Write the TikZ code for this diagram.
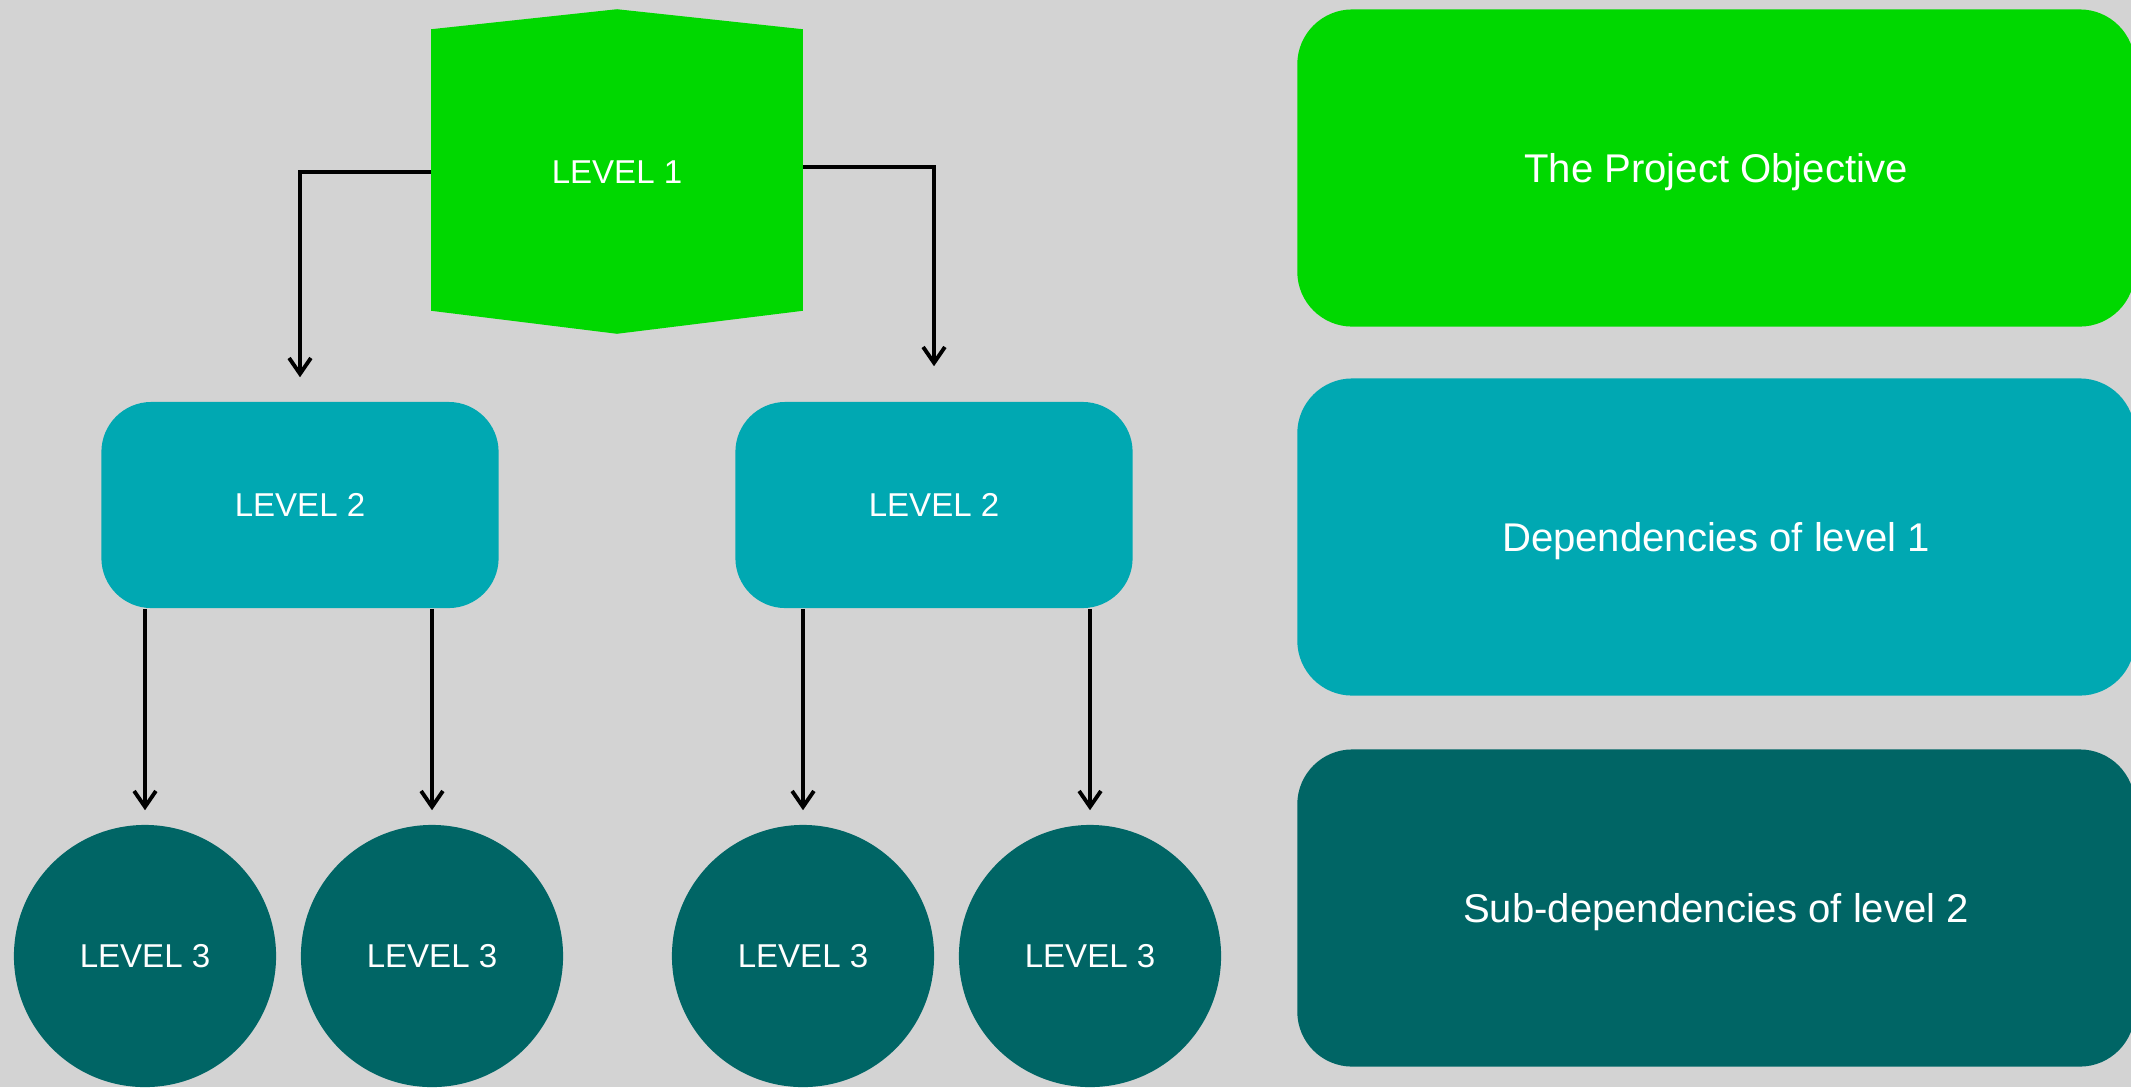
\documentclass[tikz,border=0pt]{standalone}
\usepackage{fontspec}
\setmainfont{Liberation Sans}
\usetikzlibrary{arrows.meta,calc}
\definecolor{bg}{RGB}{211,211,211}
\definecolor{lgreen}{RGB}{0,216,0}
\definecolor{tealA}{RGB}{0,168,178}
\definecolor{tealB}{RGB}{0,101,101}
\pgfdeclarelayer{back}
\pgfdeclarelayer{mid}
\pgfsetlayers{back,mid,main}
\begin{document}
\begin{tikzpicture}[x=0.01cm,y=-0.01cm,
  lbl/.style={text=white, font=\fontsize{9.4pt}{11pt}\selectfont, inner sep=0pt},
  boxtwo/.style={lbl, fill=tealA, rounded corners=0.5cm, minimum width=3.97cm, minimum height=2.06cm},
  circ/.style={lbl, circle, fill=tealB, minimum size=2.62cm},
  side/.style={text=white, font=\fontsize{11.4pt}{13pt}\selectfont, rounded corners=0.55cm, minimum width=8.37cm, minimum height=3.17cm, inner sep=0pt, text depth=0pt},
  arr/.style={draw=black, line width=1.1pt, -{Straight Barb[length=4.5pt,width=6.2pt,line width=1.1pt]}}]
\begin{pgfonlayer}{back}
\fill[bg] (0,0) rectangle (2131,1087);
\end{pgfonlayer}
\useasboundingbox (0,0) rectangle (2131,1087);
% level 1
\node[lbl, minimum width=3.70cm, minimum height=2.80cm] (l1) at (617,172) {LEVEL 1};
\begin{pgfonlayer}{mid}
\fill[lgreen] ($(l1.north west)+(0,-2)$) -- ($(l1.north)+(0,-22)$) -- ($(l1.north east)+(0,-2)$) -- ($(l1.south east)+(0,-2)$) -- ($(l1.south)+(0,21)$) -- ($(l1.south west)+(0,-2)$) -- cycle;
\end{pgfonlayer}
% level 2
\node[boxtwo] (l2a) at (300,505) {LEVEL 2};
\node[boxtwo] (l2b) at (934,505) {LEVEL 2};
% level 3
\node[circ] (l3a) at (145,956) {LEVEL 3};
\node[circ] (l3b) at (432,956) {LEVEL 3};
\node[circ] (l3c) at (803,956) {LEVEL 3};
\node[circ] (l3d) at (1090,956) {LEVEL 3};
% side legend
\node[side, fill=lgreen] (s1) at (1716,168) {The Project Objective};
\node[side, fill=tealA] (s2) at (1716,537) {Dependencies of level 1};
\node[side, fill=tealB] (s3) at (1716,908) {Sub-dependencies of level 2};
% connectors
\draw[arr, shorten >=0.24cm] ([yshift=0pt]l1.west) -| (l2a.north);
\draw[arr, shorten >=0.35cm] ([yshift=1.5pt]l1.east) -| (l2b.north);
\draw[arr, shorten >=0.14cm] (l2a.south -| l3a) -- (l3a.north);
\draw[arr, shorten >=0.14cm] (l2a.south -| l3b) -- (l3b.north);
\draw[arr, shorten >=0.14cm] (l2b.south -| l3c) -- (l3c.north);
\draw[arr, shorten >=0.14cm] (l2b.south -| l3d) -- (l3d.north);
\end{tikzpicture}
\end{document}
